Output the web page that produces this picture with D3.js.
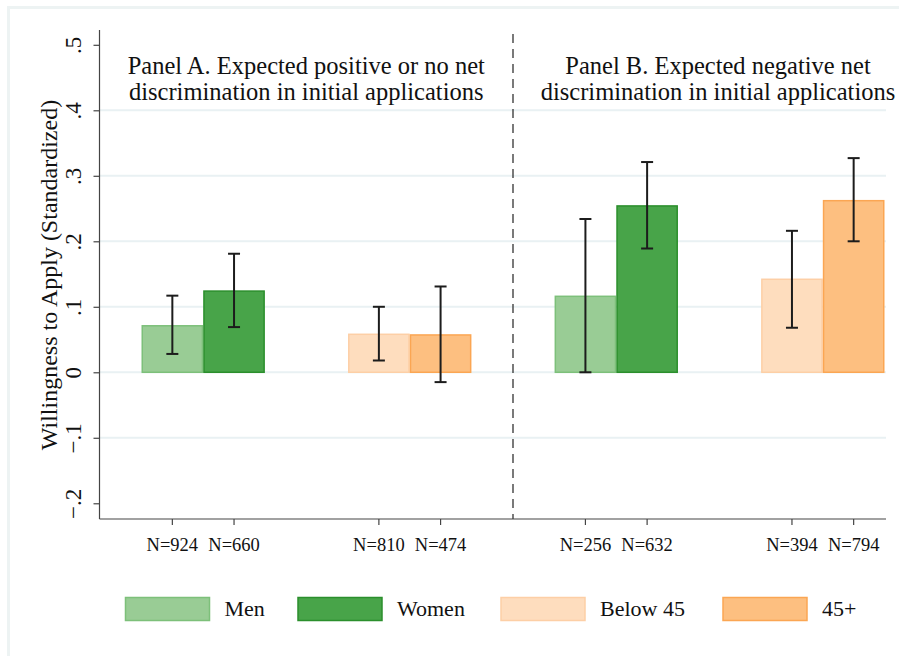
<!DOCTYPE html>
<html>
<head>
<meta charset="utf-8">
<script src="https://cdn.jsdelivr.net/npm/d3@7"></script>
<style>
  html, body { margin: 0; padding: 0; background: #fff; }
  svg { display: block; font-family: "Liberation Serif", "Times New Roman", serif; }
</style>
</head>
<body>
<svg id="chart" width="899" height="656"></svg>
<script>
// Groups along the x axis (panel + dimension) and the two bars inside each
const groups = ["A-gender", "A-age", "B-gender", "B-age"];
const seriesKeys = ["first", "second"];
const seriesNames = {
  "A-gender": ["Men", "Women"],
  "A-age": ["Below 45", "45+"],
  "B-gender": ["Men", "Women"],
  "B-age": ["Below 45", "45+"]
};
// Mean willingness to apply (standardized)
const means = {
  "A-gender": [0.071, 0.124],
  "A-age": [0.058, 0.057],
  "B-gender": [0.116, 0.254],
  "B-age": [0.142, 0.262]
};
// 95% confidence bounds
const ciLow = {
  "A-gender": [0.028, 0.069],
  "A-age": [0.018, -0.015],
  "B-gender": [0.000, 0.189],
  "B-age": [0.068, 0.200]
};
const ciHigh = {
  "A-gender": [0.117, 0.181],
  "A-age": [0.100, 0.131],
  "B-gender": [0.234, 0.321],
  "B-age": [0.216, 0.327]
};
// Sample sizes shown under each bar
const nLabels = {
  "A-gender": ["N=924", "N=660"],
  "A-age": ["N=810", "N=474"],
  "B-gender": ["N=256", "N=632"],
  "B-age": ["N=394", "N=794"]
};
const yTicks = [-0.2, -0.1, 0, 0.1, 0.2, 0.3, 0.4, 0.5];
const gridTicks = [-0.1, 0, 0.1, 0.2, 0.3, 0.4];
const panelTitles = [
  ["Panel A. Expected positive or no net", "discrimination in initial applications"],
  ["Panel B. Expected negative net", "discrimination in initial applications"]
];
const legendItems = ["Men", "Women", "Below 45", "45+"];

const styles = {
  "Men": { fill: "#99cc95", stroke: "#7dc07a" },
  "Women": { fill: "#48a449", stroke: "#2b8f2c" },
  "Below 45": { fill: "#feddbe", stroke: "#fdcfa6" },
  "45+": { fill: "#fdbf80", stroke: "#fba653" }
};

const svg = d3.select("#chart");

// faint outer frame
svg.append("path")
  .attr("d", "M8.5,660 L8.5,7.5 L905,7.5")
  .attr("fill", "none")
  .attr("stroke", "#edf3f3")
  .attr("stroke-width", 3);

const plot = { left: 99.5, right: 886, top: 30, bottom: 519 };

const y = d3.scaleLinear()
  .domain([-0.224, 0.5226])
  .range([plot.bottom, plot.top]);

const x = d3.scaleBand()
  .domain(groups)
  .range([141.5, 884.5])
  .paddingInner(0.4026);

const xInner = d3.scaleBand()
  .domain(seriesKeys)
  .range([0, x.bandwidth()]);

// gridlines
svg.append("g").selectAll("line")
  .data(gridTicks)
  .join("line")
  .attr("x1", plot.left)
  .attr("x2", plot.right)
  .attr("y1", d => y(d))
  .attr("y2", d => y(d))
  .attr("stroke", "#e9f1f3")
  .attr("stroke-width", 2);

// bars
const gBars = svg.append("g");
groups.forEach(g => {
  seriesKeys.forEach((k, i) => {
    const name = seriesNames[g][i];
    const v = means[g][i];
    const st = styles[name];
    gBars.append("rect")
      .attr("x", x(g) + xInner(k) + 0.75)
      .attr("width", xInner.bandwidth() - 1.5)
      .attr("y", y(Math.max(0, v)))
      .attr("height", Math.abs(y(v) - y(0)))
      .attr("fill", st.fill)
      .attr("stroke", st.stroke)
      .attr("stroke-width", 1.5);
  });
});

// error bars
const gErr = svg.append("g").attr("stroke", "#1c1c1c").attr("stroke-width", 2);
groups.forEach(g => {
  seriesKeys.forEach((k, i) => {
    const cx = x(g) + xInner(k) + xInner.bandwidth() / 2;
    const lo = y(ciLow[g][i]), hi = y(ciHigh[g][i]);
    gErr.append("line").attr("x1", cx).attr("x2", cx).attr("y1", lo).attr("y2", hi);
    gErr.append("line").attr("x1", cx - 6).attr("x2", cx + 6).attr("y1", lo).attr("y2", lo);
    gErr.append("line").attr("x1", cx - 6).attr("x2", cx + 6).attr("y1", hi).attr("y2", hi);
  });
});

// panel divider
const divX = (x("A-age") + x.bandwidth() + x("B-gender")) / 2;
svg.append("line")
  .attr("x1", divX).attr("x2", divX)
  .attr("y1", 34).attr("y2", plot.bottom)
  .attr("stroke", "#333")
  .attr("stroke-width", 1.3)
  .attr("stroke-dasharray", "9,6");

// y axis
const yAxis = d3.axisLeft(y)
  .tickValues(yTicks)
  .tickSize(6)
  .tickPadding(6)
  .tickFormat(d => d === 0 ? "0" : d3.format(".1f")(d).replace("0.", "."));
const gy = svg.append("g")
  .attr("transform", `translate(${plot.left},0)`)
  .call(yAxis);
gy.select(".domain").attr("d", `M0,${plot.top}V${plot.bottom}`).attr("stroke", "#444").attr("stroke-width", 1.2);
gy.selectAll(".tick line").attr("stroke", "#444").attr("stroke-width", 1.2);
gy.selectAll(".tick text")
  .attr("font-family", "Liberation Serif")
  .attr("font-size", 23)
  .attr("fill", "#111")
  .attr("transform", "rotate(-90)")
  .attr("x", 0)
  .attr("y", -19)
  .attr("dy", "0")
  .attr("text-anchor", "middle");

// x axis with one tick per bar
const tickPos = [];
groups.forEach(g => seriesKeys.forEach((k, i) => {
  tickPos.push({ pos: x(g) + xInner(k) + xInner.bandwidth() / 2, label: nLabels[g][i] });
}));
const gx = svg.append("g");
gx.append("line")
  .attr("x1", plot.left).attr("x2", plot.right)
  .attr("y1", plot.bottom).attr("y2", plot.bottom)
  .attr("stroke", "#444").attr("stroke-width", 1.2);
gx.selectAll("line.tick")
  .data(tickPos)
  .join("line")
  .attr("class", "tick")
  .attr("x1", d => d.pos).attr("x2", d => d.pos)
  .attr("y1", plot.bottom).attr("y2", plot.bottom + 6)
  .attr("stroke", "#444").attr("stroke-width", 1.2);
gx.selectAll("text")
  .data(tickPos)
  .join("text")
  .attr("x", d => d.pos)
  .attr("y", 551)
  .attr("text-anchor", "middle")
  .attr("font-size", 18.5)
  .attr("fill", "#111")
  .text(d => d.label);

// y axis title
svg.append("text")
  .attr("transform", "translate(57,275) rotate(-90)")
  .attr("text-anchor", "middle")
  .attr("font-size", 24)
  .attr("fill", "#111")
  .text("Willingness to Apply (Standardized)");

// panel titles
const titleCenters = [
  (plot.left + divX) / 2,
  (divX + plot.right) / 2 + 18.5
];
panelTitles.forEach((lines, p) => {
  lines.forEach((t, j) => {
    svg.append("text")
      .attr("x", titleCenters[p])
      .attr("y", 74 + j * 26)
      .attr("text-anchor", "middle")
      .attr("font-size", 24.5)
      .attr("fill", "#111")
      .text(t);
  });
});

// legend
const legendX = [125.5, 298, 501, 723];
const gl = svg.append("g");
legendItems.forEach((name, i) => {
  gl.append("rect")
    .attr("x", legendX[i])
    .attr("y", 597.5)
    .attr("width", 84)
    .attr("height", 23)
    .attr("fill", styles[name].fill)
    .attr("stroke", styles[name].stroke)
    .attr("stroke-width", 1.5);
  gl.append("text")
    .attr("x", legendX[i] + 99)
    .attr("y", 616)
    .attr("font-size", 22)
    .attr("fill", "#111")
    .text(name);
});
</script>
</body>
</html>
